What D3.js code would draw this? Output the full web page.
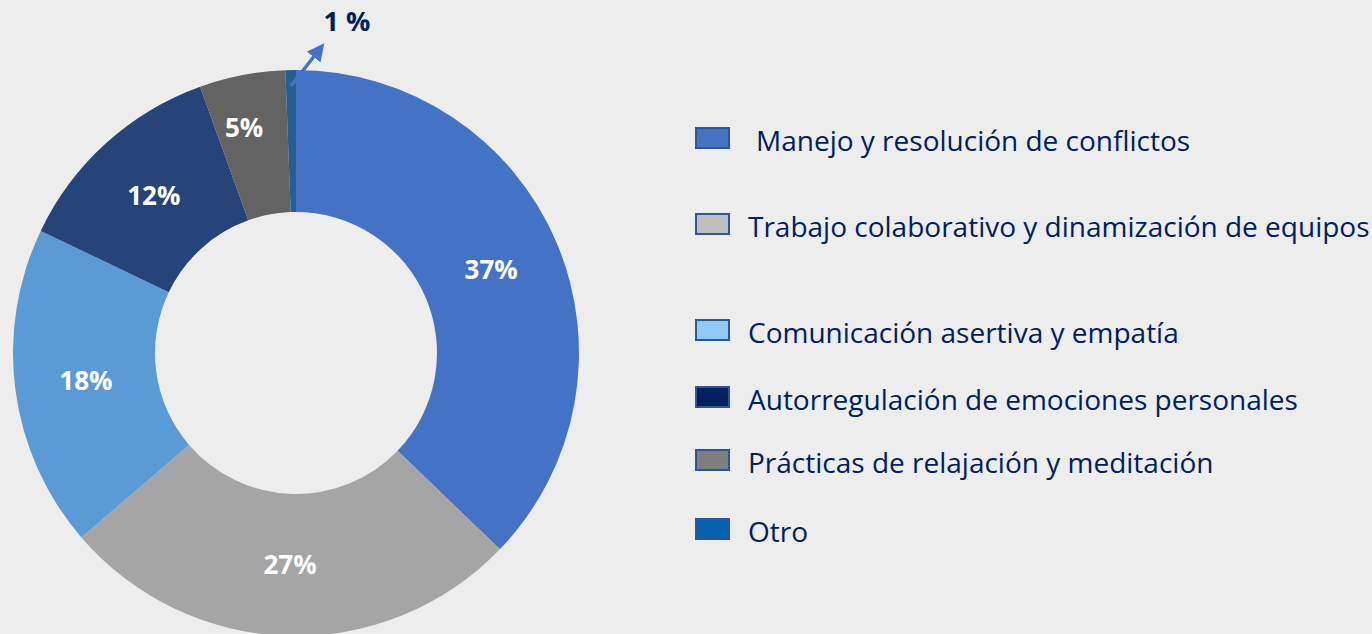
<!DOCTYPE html>
<html>
<head>
<meta charset="utf-8">
<script src="https://cdn.jsdelivr.net/npm/d3@7"></script>
<style>
  html, body { margin: 0; padding: 0; background: #ededed; }
  svg { display: block; font-family: "Open Sans", "Noto Sans", sans-serif; }
</style>
</head>
<body>
<div id="chart"></div>
<script>
// data
var categories = [
    "Manejo y resolución de conflictos",
    "Trabajo colaborativo y dinamización de equipos",
    "Comunicación asertiva y empatía",
    "Autorregulación de emociones personales",
    "Prácticas de relajación y meditación",
    "Otro"
];
var values = [37.2, 26.5, 18.4, 12.4, 4.9, 0.6];
var valueLabels = ["37%", "27%", "18%", "12%", "5%", "1 %"];

var sliceColors = ["#4472c4", "#a5a5a5", "#5b9bd5", "#264478", "#636363", "#255e91"];
var legendColors = ["#4472c4", "#bfbfbf", "#8fc9f5", "#002060", "#7f7f7f", "#0563b1"];

var svgWidth = 1372;
var svgHeight = 634;

var svg = d3.select("#chart")
            .append("svg")
            .attr("width", svgWidth)
            .attr("height", svgHeight);

svg.append("rect")
   .attr("width", svgWidth)
   .attr("height", svgHeight)
   .attr("fill", "#ededed");

var cx = 296, cy = 353;
var outerR = 283, innerR = 141;

var chartGroup = svg.append("g")
                    .attr("transform", `translate(${cx},${cy})`);

var pie = d3.pie().sort(null).value(d => d);
var arcs = pie(values);

var arc = d3.arc().innerRadius(innerR).outerRadius(outerR);

chartGroup.selectAll("path.slice")
    .data(arcs)
    .enter()
    .append("path")
    .attr("class", "slice")
    .attr("d", arc)
    .attr("fill", (d, i) => sliceColors[i]);

// labels inside the ring; the 5% one sits a bit further out
var labelArc = d3.arc().innerRadius(231).outerRadius(231);

chartGroup.selectAll("text.pct")
    .data(arcs.filter(d => d.index < 5))
    .enter()
    .append("text")
    .attr("class", "pct")
    .attr("transform", d => {
        var a = (d.startAngle + d.endAngle) / 2 - 0.035;
        var c = d.index == 4 ? labelArc.centroid({startAngle: a, endAngle: a}) : arc.centroid(d);
        return `translate(${c[0]},${c[1]})`;
    })
    .attr("text-anchor", "middle")
    .attr("dy", "0.36em")
    .attr("fill", "#ffffff")
    .attr("font-weight", "bold")
    .attr("font-size", "26px")
    .text(d => valueLabels[d.index]);

// the tiny "Otro" slice gets an arrow out to its label
svg.append("defs").append("marker")
    .attr("id", "head")
    .attr("viewBox", "0 0 10 10")
    .attr("refX", 5)
    .attr("refY", 5)
    .attr("markerWidth", 5)
    .attr("markerHeight", 5)
    .attr("orient", "auto")
    .append("path")
    .attr("d", "M0,0 L10,5 L0,10 z")
    .attr("fill", "#4472c4");

var last = arcs[5];
var mid = (last.startAngle + last.endAngle) / 2;
var r0 = outerR - 16;
var x0 = r0 * Math.sin(mid), y0 = -r0 * Math.cos(mid);

chartGroup.append("line")
    .attr("x1", x0)
    .attr("y1", y0)
    .attr("x2", x0 + 28)
    .attr("y2", y0 - 36)
    .attr("stroke", "#4472c4")
    .attr("stroke-width", 3.5)
    .attr("marker-end", "url(#head)");

chartGroup.append("text")
    .attr("x", x0 + 56)
    .attr("y", y0 - 55)
    .attr("text-anchor", "middle")
    .attr("fill", "#002060")
    .attr("font-weight", "bold")
    .attr("font-size", "27px")
    .text(valueLabels[5]);

// legend
var legendY = [138, 224, 330, 397, 460, 529];

var legend = svg.append("g").attr("class", "legend");

var rows = legend.selectAll("g")
    .data(categories)
    .enter()
    .append("g")
    .attr("transform", (d, i) => `translate(695,${legendY[i]})`);

rows.append("rect")
    .attr("x", 1)
    .attr("y", -10)
    .attr("width", 33)
    .attr("height", 20)
    .attr("fill", (d, i) => legendColors[i])
    .attr("stroke", "#2f5597")
    .attr("stroke-width", 2);

rows.append("text")
    .attr("x", (d, i) => i == 0 ? 61 : 53)
    .attr("y", 0)
    .attr("dy", "0.46em")
    .attr("fill", "#002060")
    .attr("font-size", "28px")
    .text(d => d);
</script>
</body>
</html>
